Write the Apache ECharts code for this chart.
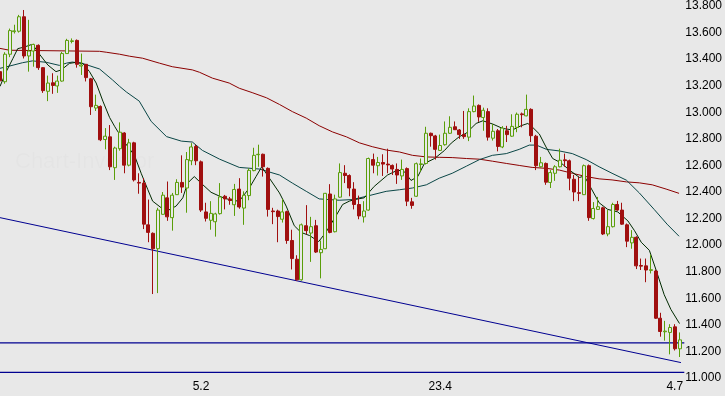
<!DOCTYPE html>
<html>
<head>
<meta charset="utf-8">
<script src="https://cdn.jsdelivr.net/npm/echarts@6/dist/echarts.min.js"></script>
<style>
html,body{margin:0;padding:0;background:#e8e8e8;}
#c{width:725px;height:396px;}
</style>
</head>
<body>
<div id="c"></div>
<script>
// ---- data ----
const tickIdx = [42, 92, 141];
const tickText = ['5.2', '23.4', '4.7'];
const yTicks = { min: 11.0, max: 13.8, step: 0.2 };

const open = [13.306,13.230,13.437,13.607,13.610,13.719,13.424,13.461,13.504,13.336,13.158,13.222,13.198,13.235,13.442,13.533,13.541,13.348,13.361,13.252,13.032,13.044,12.795,12.815,12.583,12.726,12.844,12.602,12.770,12.472,12.467,12.153,12.089,11.973,12.232,12.356,12.207,12.380,12.472,12.430,12.635,12.743,12.627,12.250,12.187,12.176,12.237,12.368,12.348,12.304,12.422,12.279,12.373,12.561,12.681,12.684,12.578,12.257,12.257,12.195,12.252,12.035,11.894,11.739,12.146,12.091,12.146,11.943,11.973,12.385,12.101,12.361,12.541,12.524,12.422,12.306,12.213,12.264,12.644,12.598,12.622,12.610,12.600,12.570,12.521,12.576,12.326,12.368,12.607,12.615,12.842,12.822,12.713,12.756,12.842,12.891,12.867,12.832,12.813,13.005,13.052,12.961,13.005,12.805,12.861,12.739,12.861,12.820,12.887,12.988,12.973,13.022,12.820,12.590,12.615,12.472,12.541,12.590,12.642,12.635,12.496,12.395,12.380,12.598,12.200,12.269,12.281,12.084,12.139,12.306,12.264,12.153,12.017,12.059,11.847,11.844,11.810,11.805,11.450,11.348,11.343,11.385,11.220];
const close = [13.237,13.437,13.615,13.613,13.719,13.424,13.461,13.511,13.336,13.163,13.220,13.202,13.235,13.442,13.541,13.538,13.361,13.356,13.261,13.042,13.052,12.793,12.820,12.590,12.731,12.850,12.602,12.770,12.491,12.467,12.158,12.096,11.973,12.264,12.376,12.213,12.376,12.472,12.437,12.644,12.739,12.635,12.264,12.202,12.239,12.235,12.363,12.348,12.336,12.419,12.287,12.376,12.563,12.676,12.684,12.590,12.269,12.252,12.215,12.250,12.035,11.899,11.739,12.153,12.109,12.139,11.948,11.968,12.390,12.096,12.348,12.546,12.524,12.430,12.306,12.220,12.257,12.652,12.602,12.622,12.610,12.604,12.573,12.528,12.570,12.331,12.299,12.613,12.612,12.842,12.824,12.721,12.750,12.842,12.887,12.869,12.832,12.817,13.005,13.047,12.965,13.015,12.813,12.857,12.743,12.881,12.832,12.894,12.985,12.982,13.022,12.824,12.598,12.620,12.474,12.546,12.590,12.639,12.636,12.504,12.400,12.390,12.598,12.207,12.276,12.289,12.084,12.139,12.306,12.264,12.158,12.030,12.059,11.844,11.842,11.813,11.815,11.450,11.350,11.353,11.380,11.220,11.287];
const low = [13.207,13.215,13.415,13.593,13.600,13.405,13.306,13.343,13.319,13.146,13.084,13.139,13.146,13.230,13.440,13.519,13.336,13.281,13.232,12.980,13.010,12.783,12.721,12.565,12.491,12.711,12.541,12.593,12.479,12.387,12.121,12.022,11.632,11.639,12.230,12.183,12.109,12.378,12.393,12.244,12.602,12.602,12.250,12.178,12.116,12.064,12.230,12.269,12.304,12.220,12.274,12.153,12.338,12.556,12.590,12.516,12.215,12.158,12.022,12.170,12.010,11.817,11.733,11.733,12.081,11.874,11.941,11.750,11.970,12.089,12.096,12.356,12.467,12.368,12.269,12.195,12.170,12.259,12.541,12.524,12.521,12.541,12.528,12.461,12.491,12.294,12.274,12.363,12.553,12.607,12.741,12.644,12.711,12.749,12.837,12.867,12.800,12.800,12.783,13.000,12.928,12.861,12.787,12.787,12.706,12.730,12.776,12.815,12.850,12.887,12.970,12.776,12.565,12.585,12.454,12.430,12.484,12.585,12.590,12.413,12.331,12.331,12.378,12.183,12.193,12.267,12.076,12.067,12.133,12.259,12.153,11.985,11.973,11.820,11.813,11.721,11.787,11.444,11.311,11.281,11.178,11.207,11.158];
const high = [13.341,13.452,13.630,13.659,13.733,13.770,13.696,13.516,13.511,13.340,13.276,13.294,13.276,13.454,13.553,13.556,13.548,13.442,13.363,13.259,13.133,13.052,12.881,12.904,12.741,12.924,12.850,12.800,12.778,12.541,12.504,12.343,12.096,12.281,12.400,12.479,12.393,12.496,12.676,12.701,12.768,12.756,12.637,12.319,12.331,12.244,12.467,12.378,12.363,12.461,12.504,12.405,12.578,12.733,12.756,12.689,12.585,12.281,12.267,12.348,12.259,12.116,11.924,12.163,12.301,12.213,12.190,12.035,12.393,12.459,12.380,12.615,12.602,12.533,12.474,12.373,12.331,12.659,12.689,12.664,12.684,12.726,12.607,12.615,12.644,12.585,12.356,12.622,12.652,12.891,12.847,12.830,12.832,12.931,12.970,12.931,12.874,13.010,13.030,13.126,13.059,13.035,13.030,12.911,12.874,12.896,12.898,12.985,12.998,12.998,13.133,13.030,12.830,12.664,12.622,12.565,12.602,12.726,12.689,12.644,12.528,12.516,12.607,12.607,12.324,12.363,12.289,12.264,12.319,12.333,12.319,12.163,12.113,12.067,11.899,11.899,11.928,11.815,11.491,11.430,11.405,11.405,11.343];

// moving averages: positions (in candle index units) and values
const maShortX = [0,1.3,2.7,3.7,5.1,6.5,7.2,8.3,10.0,11.7,12.8,14.5,15.9,17.3,18.7,20.1,21.5,22.9,24.0,26.0,28.1,29.5,30.9,31.9,33.7,35.1,36.8,38.2,39.2,40.6,42.4,44.1,46.2,48.3,50.0,52.1,53.5,54.7,56.3,58.4,59.8,61.5,62.9,64.7,66.6,68.1,70.2,71.6,73.0,74.1,76.1,78.2,81.0,83.1,84.5,85.9,87.3,88.7,90.8,92.9,94.3,96.0,97.4,99.5,100.9,103.0,105.0,107.1,108.9,110.3,111.3,112.7,114.1,115.5,117.2,119.0,121.1,122.1,123.5,125.2,127.0,129.1,131.2,132.6,134.0,135.7,137.1,138.8,140.2,142.0];
const maShortY = [13.195,13.306,13.405,13.479,13.491,13.509,13.491,13.435,13.356,13.306,13.319,13.368,13.376,13.368,13.306,13.220,13.084,12.961,12.891,12.776,12.676,12.541,12.417,12.331,12.281,12.261,12.294,12.356,12.467,12.516,12.454,12.398,12.363,12.338,12.331,12.430,12.516,12.590,12.504,12.393,12.294,12.146,12.096,12.072,12.027,12.096,12.220,12.306,12.331,12.343,12.356,12.442,12.528,12.565,12.553,12.487,12.516,12.615,12.652,12.713,12.768,12.817,12.842,12.916,12.936,12.911,12.879,12.867,12.899,12.916,12.887,12.837,12.739,12.652,12.620,12.565,12.509,12.521,12.430,12.319,12.269,12.250,12.183,12.109,12.022,11.961,11.813,11.627,11.516,11.410];
const maMidX = [0,2.0,4.7,6.8,9.7,12.4,13.9,15.1,17.2,20.8,23.5,25.0,26.4,29.1,31.6,34.8,37.9,40.2,42.3,45.9,50.0,54.2,58.4,61.1,64.0,66.7,70.9,73.6,76.6,80.7,83.5,86.2,89.1,91.8,94.5,97.5,100.2,102.9,105.8,108.5,110.6,112.1,114.2,116.9,119.6,122.5,125.2,127.9,130.9,133.6,136.7,139.4,141.9];
const maMidY = [13.331,13.348,13.373,13.387,13.376,13.353,13.370,13.378,13.368,13.326,13.244,13.195,13.153,13.084,12.931,12.817,12.783,12.776,12.713,12.647,12.585,12.573,12.528,12.467,12.405,12.348,12.338,12.343,12.368,12.405,12.417,12.430,12.454,12.504,12.541,12.595,12.644,12.676,12.689,12.721,12.753,12.753,12.721,12.709,12.689,12.644,12.590,12.541,12.489,12.393,12.269,12.158,12.067];
const maLongX = [0,2.0,20.8,22.2,25.0,27.1,29.8,33.3,36.0,40.2,41.7,44.4,47.9,50.0,52.7,55.7,58.4,61.1,64.0,66.7,69.5,72.4,75.1,77.8,80.7,83.5,86.2,89.1,91.8,94.5,97.5,100.2,102.9,105.8,108.5,111.2,114.2,116.9,119.6,122.5,125.2,127.9,130.9,133.6,136.3,139.2,141.9];
const maLongY = [13.481,13.467,13.459,13.452,13.437,13.422,13.407,13.370,13.343,13.319,13.301,13.257,13.220,13.181,13.148,13.109,13.059,13.005,12.956,12.899,12.852,12.815,12.770,12.741,12.716,12.701,12.676,12.664,12.661,12.659,12.652,12.647,12.632,12.615,12.600,12.585,12.578,12.565,12.541,12.516,12.499,12.491,12.476,12.469,12.454,12.422,12.390];

// drawn support lines
const trendX = [0, 142.3];
const trendY = [12.207, 11.116];
const hLines = [11.264, 11.042];

// ---- chart ----
const N = 144; // number of slots on the category axis (last one empty)
const cats = Array.from({length: N}, (_, i) => String(i));
const candles = open.map((o, i) => [o, close[i], low[i], high[i]]);
const zip = (xs, ys) => xs.map((x, i) => [x, ys[i]]);

const BG = '#e8e8e8';
const NAVY = '#000090';
const chart = echarts.init(document.getElementById('c'), null, {renderer: 'canvas'});
chart.setOption({
  animation: false,
  backgroundColor: BG,
  grid: {left: 0, right: 39, top: 0, bottom: 18, containLabel: false},
  graphic: [{
    type: 'text', left: 15, top: 151, silent: true, z: 0,
    style: {text: 'Chart-Investor', fill: 'rgba(0,0,0,0.015)', font: '22px "Liberation Sans", Arial, sans-serif'}
  }],
  xAxis: [{
    type: 'category', data: cats, boundaryGap: false,
    axisLine: {show: false}, axisTick: {show: false}, splitLine: {show: false},
    axisLabel: {
      interval: (i) => tickIdx.includes(i),
      formatter: (v, i) => { const k = tickIdx.indexOf(i); return k >= 0 ? tickText[k] : ''; },
      color: '#000', fontSize: 12, fontFamily: '"Liberation Sans", Arial, sans-serif', margin: 3
    }
  }, {
    type: 'value', min: 0, max: N - 1, show: false
  }],
  yAxis: {
    type: 'value', position: 'right', min: yTicks.min, max: yTicks.max, interval: yTicks.step,
    axisLine: {show: false}, axisTick: {show: false}, splitLine: {show: false},
    axisLabel: {
      formatter: (v) => v.toFixed(3), color: '#000', fontSize: 12,
      fontFamily: '"Liberation Sans", Arial, sans-serif', margin: 1, align: 'left'
    }
  },
  series: [
    {
      type: 'line', xAxisIndex: 1, data: zip(trendX, trendY), symbol: 'none',
      lineStyle: {color: NAVY, width: 1}, z: 1
    },
    ...hLines.map(v => ({
      type: 'line', xAxisIndex: 1, data: [[0, v], [N - 1, v]], symbol: 'none',
      lineStyle: {color: NAVY, width: 1.2}, z: 1
    })),
    {
      type: 'line', xAxisIndex: 1, data: zip(maLongX, maLongY), symbol: 'none',
      lineStyle: {color: '#8b0000', width: 1}, z: 2
    },
    {
      type: 'line', xAxisIndex: 1, data: zip(maMidX, maMidY), symbol: 'none',
      lineStyle: {color: '#0a4646', width: 1}, z: 2
    },
    {
      type: 'line', xAxisIndex: 1, data: zip(maShortX, maShortY), symbol: 'none',
      lineStyle: {color: '#002a00', width: 1}, z: 2
    },
    {
      type: 'candlestick', xAxisIndex: 0, data: candles, barWidth: 3.5, z: 3,
      itemStyle: {
        color: BG, borderColor: '#5a9e0a',
        color0: '#a00f0f', borderColor0: '#a00f0f', borderWidth: 1
      }
    }
  ]
});
</script>
</body>
</html>
